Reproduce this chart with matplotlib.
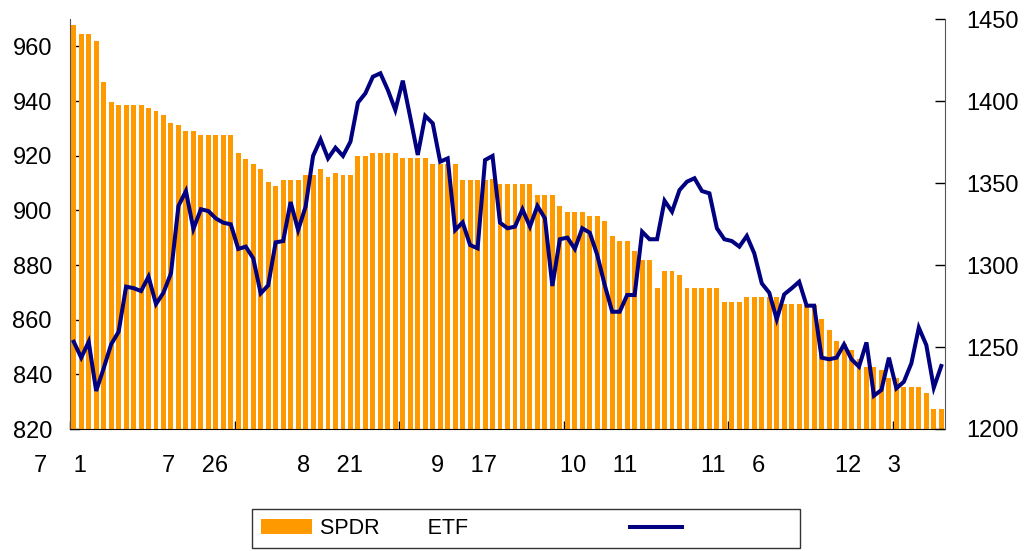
import numpy as np
import matplotlib
matplotlib.use("Agg")
import matplotlib.pyplot as plt

plt.rcParams['font.family'] = ['Liberation Sans', 'DejaVu Sans']

# SPDR ETF holdings (left axis) and price (right axis), one value per trading day
holdings = [
    967.8, 964.4, 964.4, 961.8, 946.8, 939.5, 938.7, 938.7, 938.7, 938.7,
    937.3, 936.2, 934.7, 932.1, 931.4, 929.2, 929.2, 927.4, 927.4, 927.4,
    927.4, 927.4, 921.1, 918.6, 917.1, 915.3, 910.5, 909.0, 911.2, 911.2,
    911.2, 913.1, 913.1, 915.3, 912.3, 913.8, 913.1, 913.1, 920.0, 920.0,
    921.0, 921.0, 921.0, 921.0, 919.2, 919.2, 919.2, 919.2, 917.0, 917.0,
    917.0, 917.0, 911.1, 911.1, 911.1, 911.1, 911.5, 909.6, 909.6, 909.6,
    909.6, 909.6, 905.6, 905.6, 905.6, 901.6, 899.4, 899.4, 899.4, 897.9,
    897.9, 896.1, 890.6, 888.8, 888.8, 885.1, 881.8, 881.8, 871.7, 877.8,
    877.8, 876.3, 871.7, 871.7, 871.7, 871.7, 871.7, 866.5, 866.5, 866.5,
    868.4, 868.4, 868.4, 868.4, 868.4, 865.7, 865.7, 865.7, 865.5, 865.5,
    860.2, 856.2, 852.2, 851.0, 848.9, 845.6, 842.7, 842.7, 841.6, 838.8,
    838.8, 835.4, 835.4, 835.4, 833.2, 827.3, 827.3]

price = [
    1253.2, 1243.5, 1253.2, 1223.2, 1237.0, 1251.6, 1259.3, 1286.8, 1285.9, 1284.1,
    1292.9, 1276.2, 1283.1, 1294.9, 1336.0, 1345.1, 1322.0, 1334.0, 1332.9, 1328.4,
    1325.8, 1324.8, 1309.8, 1311.2, 1304.1, 1282.7, 1287.6, 1313.8, 1314.6, 1338.4,
    1321.3, 1335.5, 1366.5, 1376.6, 1365.0, 1371.5, 1366.5, 1375.2, 1399.0, 1404.7,
    1414.8, 1416.9, 1406.7, 1394.5, 1412.4, 1390.0, 1367.1, 1390.9, 1386.4, 1363.0,
    1365.0, 1321.3, 1326.0, 1312.2, 1310.2, 1364.0, 1366.5, 1325.8, 1322.4, 1323.4,
    1334.0, 1323.4, 1336.0, 1328.5, 1287.2, 1315.7, 1316.7, 1309.8, 1322.4, 1319.7,
    1306.1, 1287.8, 1271.5, 1271.5, 1281.7, 1281.7, 1320.3, 1315.7, 1315.7, 1339.2,
    1332.5, 1345.7, 1350.8, 1352.9, 1345.1, 1343.7, 1322.4, 1315.7, 1314.6, 1311.2,
    1317.7, 1307.1, 1288.8, 1283.1, 1266.9, 1282.1, 1285.8, 1289.8, 1275.2, 1275.2,
    1243.5, 1242.5, 1243.5, 1251.6, 1242.5, 1238.0, 1252.8, 1220.3, 1223.8, 1243.5,
    1224.8, 1228.8, 1240.0, 1261.8, 1251.2, 1225.2, 1238.4]

# date labels (month / day), glyphs between them rendered as blanks
label_pos = [0, 18, 36, 54, 72, 90, 108]
label_txt = ['7    1    ', '7    26    ', '8    21    ', '9    17    ',
             '10    11    ', '11    6    ', '12    3    ']

bar_label = 'SPDR        ETF              '
line_label = '                 '

x = np.arange(len(holdings))

fig = plt.figure(figsize=(10.27, 5.51), dpi=100)
ax = fig.add_axes([70 / 1027, 122 / 551, 875 / 1027, 410 / 551])
bars = ax.bar(x, holdings, width=0.66, color='#FF9900', zorder=2)
ax.set_xlim(-0.5, len(holdings) - 0.5)
ax.set_ylim(820, 970)
ax.set_yticks(np.arange(820, 961, 20))

ax2 = ax.twinx()
line, = ax2.plot(x, price, color='#000080', lw=2.9, solid_joinstyle='miter', zorder=3)
ax2.set_ylim(1200, 1450)
ax2.set_yticks(np.arange(1200, 1451, 50))

# tick marks every 22 categories, labels every 18
ax.set_xticks(np.arange(-0.5, len(holdings), 22))
ax.set_xticklabels([])
ax.set_xticks(label_pos, minor=True)
ax.set_xticklabels(label_txt, minor=True)
ax.tick_params(axis='x', which='major', direction='in', length=6, width=1)
ax.tick_params(axis='x', which='minor', direction='in', length=0, pad=19, labelsize=17)
ax.tick_params(axis='y', direction='in', length=7, width=1, pad=13, labelsize=17)
ax2.tick_params(axis='y', direction='in', length=7, width=1, pad=15, labelsize=17)

for a in (ax, ax2):
    a.spines['top'].set_visible(False)
ax.spines['right'].set_visible(False)
ax2.spines['left'].set_visible(False)
ax2.spines['bottom'].set_visible(False)
ax.spines['left'].set_color('#555555')
ax2.spines['right'].set_color('#555555')
ax.spines['bottom'].set_color('black')

leg = fig.legend([bars, line], [bar_label, line_label], ncol=2, mode='expand',
                 loc='upper left', bbox_to_anchor=(252 / 1027, 1 - 515 / 551, 548 / 1027, 0.01),
                 fancybox=False, edgecolor='#333333', framealpha=1, fontsize=15.5,
                 handlelength=2.4, handletextpad=0.35, borderpad=0.4, borderaxespad=0)
leg.get_frame().set_linewidth(1.0)

fig.savefig('out.png', dpi=100)
